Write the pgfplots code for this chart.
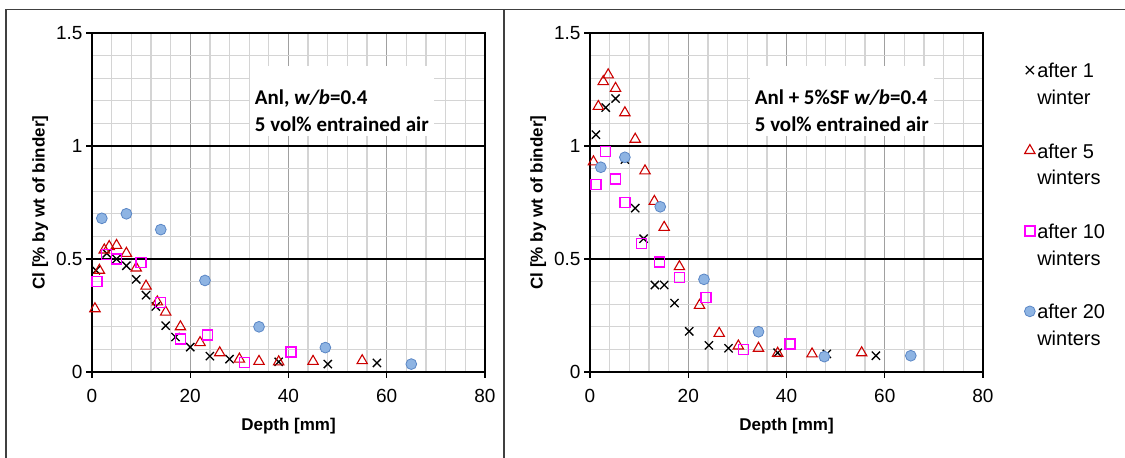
\documentclass[border=0pt]{standalone}
\usepackage{pgfplots}
\pgfplotsset{compat=1.18}
\usepackage{fontspec}
\setmainfont{Liberation Sans}
\newfontfamily\carlito{Carlito}
\definecolor{tri}{HTML}{CC0000}
\definecolor{sq}{HTML}{FF00FF}
\definecolor{circfill}{HTML}{8EB4E3}
\definecolor{circdraw}{HTML}{5A86C5}
\definecolor{mingrid}{HTML}{D4D4D4}
\definecolor{majxgrid}{HTML}{A0A0A0}
\pgfplotsset{
 chartstyle/.style={
  scale only axis, width=393pt, height=339pt,
  xmin=0,xmax=80,ymin=0,ymax=1.5,
  xtick={0,20,40,60,80}, ytick={0,0.5,1,1.5},
  minor x tick num=4, minor y tick num=4,
  grid=both,
  minor grid style={mingrid, line width=1.3pt},
  major x grid style={majxgrid,line width=1.3pt},
  major y grid style={black,line width=1.3pt},
  axis line style={black,line width=1.5pt},
  tick align=outside, major tick length=6pt, minor tick length=0pt,
  xtick pos=bottom, ytick pos=left,
  tick style={black,line width=1.2pt},
  tick label style={font=\fontsize{19}{22}\selectfont},
  xticklabel style={yshift=-8pt},
  /pgf/number format/assume math mode=true,
  label style={font=\bfseries\fontsize{17}{20}\selectfont},
  xlabel={Depth [mm]}, ylabel={Cl [\% by wt of binder]},
  xlabel style={at={(axis description cs:0.5,-0.16)},anchor=center},
  ylabel style={at={(axis description cs:-0.132,0.5)},anchor=center},
  clip=false,
 },
 s1/.style={only marks, color=black, mark=x, mark size=5.8pt, line width=1.3pt},
 s5/.style={only marks, color=tri, mark=triangle, mark size=6pt, line width=1.1pt},
 s10/.style={only marks, color=sq, mark=square, mark size=5pt, line width=1.4pt, mark options={draw=sq, fill=none}},
 s20/.style={only marks, color=circdraw, mark=*, mark size=5.4pt, line width=0.8pt, mark options={fill=circfill,draw=circdraw}},
}
\tikzset{
 annot/.style={anchor=north west, fill=white, inner xsep=5pt, inner ysep=5pt, align=left,
   font=\carlito\bfseries\fontsize{21}{27}\selectfont},
}
\begin{document}
\begin{tikzpicture}
\useasboundingbox (0pt,0pt) rectangle (1125pt,458pt);
\draw[line width=1.5pt, black!75] (6pt,0pt) -- (6pt,448.7pt) -- (1125pt,448.7pt);
\draw[line width=1.5pt, black!75] (504pt,0pt) -- (504pt,448.7pt);

\begin{axis}[chartstyle, at={(92pt,86pt)}, anchor=south west]
\addplot[s1] coordinates {(0.8,0.45)(3,0.525)(5,0.50)(7,0.47)(9,0.41)(11,0.34)(13,0.29)(15,0.205)(17,0.155)(20,0.11)(24,0.07)(28,0.057)(38,0.045)(48,0.035)(58,0.04)};
\addplot[s5] coordinates {(0.6,0.28)(1.5,0.45)(2.5,0.54)(3.5,0.555)(5,0.56)(7,0.525)(9,0.46)(11,0.38)(13.3,0.31)(15,0.265)(18,0.2)(22,0.13)(26,0.085)(30,0.057)(34,0.047)(38,0.045)(45,0.047)(55,0.05)};
\addplot[s10] coordinates {(1,0.40)(3,0.52)(5,0.50)(10,0.485)(14,0.307)(18,0.146)(23.5,0.164)(31.1,0.043)(40.5,0.088)};
\addplot[s20] coordinates {(2,0.68)(7,0.70)(14,0.63)(23,0.405)(34,0.20)(47.5,0.108)(65,0.035)};
\node[annot] at (axis cs:32.1,1.354) {\rule{0pt}{33pt}Anl, \textit{w/b}=0.4\\5 vol\% entrained air};
\end{axis}

\begin{axis}[chartstyle, at={(590pt,86pt)}, anchor=south west,
  legend style={at={(1.097,0.918)}, anchor=north west, draw=none, fill=none,
    inner sep=0pt, row sep=8.5pt, font=\fontsize{20}{24}\selectfont,
    nodes={inner xsep=2pt, inner ysep=0pt}},
  legend cell align=left]
\addplot[s1] coordinates {(1.2,1.05)(3.2,1.17)(5.2,1.21)(7.1,0.94)(9.2,0.725)(10.9,0.59)(13.2,0.385)(15.1,0.385)(17.2,0.305)(20.2,0.18)(24.2,0.118)(28.2,0.105)(38.2,0.085)(48.2,0.08)(58.2,0.072)};
\addlegendentry{\strut after 1}
\addlegendimage{empty legend}\addlegendentry{\strut winter}
\addlegendimage{empty legend}\addlegendentry{\strut}
\addplot[s5] coordinates {(0.7,0.93)(1.7,1.175)(2.7,1.285)(3.7,1.315)(5.2,1.255)(7.1,1.147)(9.2,1.03)(11.2,0.89)(13.1,0.755)(15.1,0.64)(18.2,0.466)(22.3,0.295)(26.3,0.171)(30.2,0.115)(34.3,0.105)(38.2,0.083)(45.2,0.08)(55.3,0.085)};
\addlegendentry{\strut after 5}
\addlegendimage{empty legend}\addlegendentry{\strut winters}
\addlegendimage{empty legend}\addlegendentry{\strut}
\addplot[s10] coordinates {(1.2,0.83)(3.2,0.975)(5.2,0.854)(7.1,0.75)(10.5,0.569)(14.2,0.486)(18.2,0.419)(23.6,0.33)(31.2,0.10)(40.7,0.124)};
\addlegendentry{\strut after 10}
\addlegendimage{empty legend}\addlegendentry{\strut winters}
\addlegendimage{empty legend}\addlegendentry{\strut}
\addplot[s20] coordinates {(2.2,0.906)(7.1,0.95)(14.3,0.731)(23.2,0.41)(34.3,0.178)(47.7,0.068)(65.3,0.072)};
\addlegendentry{\strut after 20}
\addlegendimage{empty legend}\addlegendentry{\strut winters}
\node[annot] at (axis cs:32.5,1.354) {\rule{0pt}{33pt}Anl + 5\%SF \textit{w/b}=0.4\\5 vol\% entrained air};
\end{axis}
\end{tikzpicture}
\end{document}
